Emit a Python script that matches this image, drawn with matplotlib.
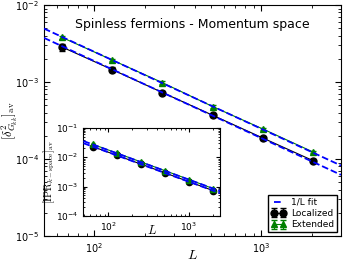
import numpy as np
from matplotlib import pyplot as plt

# System sizes
L = np.array([64, 128, 256, 512, 1024, 2048])

# Main panel: disorder-averaged variance of G_kk
loc_main = np.array([2.85e-3, 1.45e-3, 7.3e-4, 3.7e-4, 1.87e-4, 9.5e-5])
loc_main_err = np.array([3.0e-4, 1.0e-4, 4.0e-5, 2.0e-5, 8.0e-6, 4.0e-6])
ext_main = np.array([3.8e-3, 1.93e-3, 9.8e-4, 4.8e-4, 2.45e-4, 1.23e-4])
ext_main_err = np.array([2.0e-4, 8.0e-5, 4.0e-5, 2.0e-5, 8.0e-6, 4.0e-6])
# 1/L fit prefactors
loc_fit_c = 0.187
ext_fit_c = 0.247

# Inset: IPR in k-space
loc_ins = np.array([2.3e-2, 1.16e-2, 5.8e-3, 2.9e-3, 1.45e-3, 7.2e-4])
loc_ins_err = np.array([2.0e-3, 8.0e-4, 4.0e-4, 2.0e-4, 1.0e-4, 5.0e-5])
ext_ins = np.array([2.75e-2, 1.38e-2, 6.9e-3, 3.45e-3, 1.72e-3, 8.4e-4])
ext_ins_err = np.array([2.0e-3, 8.0e-4, 4.0e-4, 2.0e-4, 1.0e-4, 5.0e-5])
loc_ins_c = 1.47
ext_ins_c = 1.74

plt.rcParams['mathtext.fontset'] = 'cm'
plt.rcParams['xtick.direction'] = 'in'
plt.rcParams['ytick.direction'] = 'in'
plt.rcParams['xtick.top'] = True
plt.rcParams['ytick.right'] = True

fig = plt.figure(figsize=(3.49, 2.62), dpi=100)
ax = fig.add_axes([0.126, 0.099, 0.851, 0.882])

xfit = np.array([50, 3000])
ax.plot(xfit, loc_fit_c/xfit, '--', color='blue', lw=1.3, label='1/L fit', zorder=3)
ax.plot(xfit, ext_fit_c/xfit, '--', color='blue', lw=1.3, zorder=3)
ax.errorbar(L, loc_main, yerr=loc_main_err, fmt='-o', color='black', ms=5,
            lw=0.8, capsize=2, label='Localized')
ax.errorbar(L, ext_main, yerr=ext_main_err, fmt='-^', color='green', mec='green',
            ms=5, lw=0.8, capsize=2, label='Extended')
ax.set_xscale('log')
ax.set_yscale('log')
ax.set_xlim(50, 3000)
ax.set_ylim(1e-5, 1e-2)
ax.tick_params(labelsize=7, length=4)
ax.tick_params(which='minor', length=2)
ax.set_xlabel(r'$L$', fontsize=10)
ax.xaxis.set_label_coords(0.5, -0.052)
ax.set_ylabel(r'$[\delta^2_{G_{kk}}]_{\rm av}$', fontsize=9)
ax.yaxis.set_label_coords(-0.081, 0.5)
ax.text(0.5, 0.9, 'Spinless fermions - Momentum space', transform=ax.transAxes,
        ha='center', fontsize=9)
leg = ax.legend(loc='lower right', fontsize=6.5, fancybox=False, framealpha=1,
                edgecolor='black', handlelength=1.6, handletextpad=0.6,
                borderpad=0.35, borderaxespad=0.4, labelspacing=0.25,
                numpoints=2)

# Inset
ins = fig.add_axes([0.239, 0.176, 0.391, 0.336])
xf2 = np.array([49, 2460])
ins.plot(xf2, loc_ins_c/xf2, '--', color='blue', lw=1.3, zorder=3)
ins.plot(xf2, ext_ins_c/xf2, '--', color='blue', lw=1.3, zorder=3)
ins.errorbar(L, loc_ins, yerr=loc_ins_err, fmt='-o', color='black', ms=4.5,
             lw=0.8, capsize=1.5)
ins.errorbar(L, ext_ins, yerr=ext_ins_err, fmt='-^', color='green', mec='green',
             ms=4.5, lw=0.8, capsize=1.5)
ins.set_xscale('log')
ins.set_yscale('log')
ins.set_xlim(49, 2460)
ins.set_ylim(1e-4, 1e-1)
ins.tick_params(labelsize=6.5, length=3)
ins.tick_params(which='minor', length=1.5)
ins.set_xlabel(r'$L$', fontsize=9)
ins.xaxis.set_label_coords(0.5, -0.095)
ins.set_ylabel(r'$[\mathrm{IPR}_{k-\mathrm{space}}]_{\rm av}$', fontsize=7.5)
ins.yaxis.set_label_coords(-0.19, 0.5)

fig.savefig('out.png', dpi=100)
